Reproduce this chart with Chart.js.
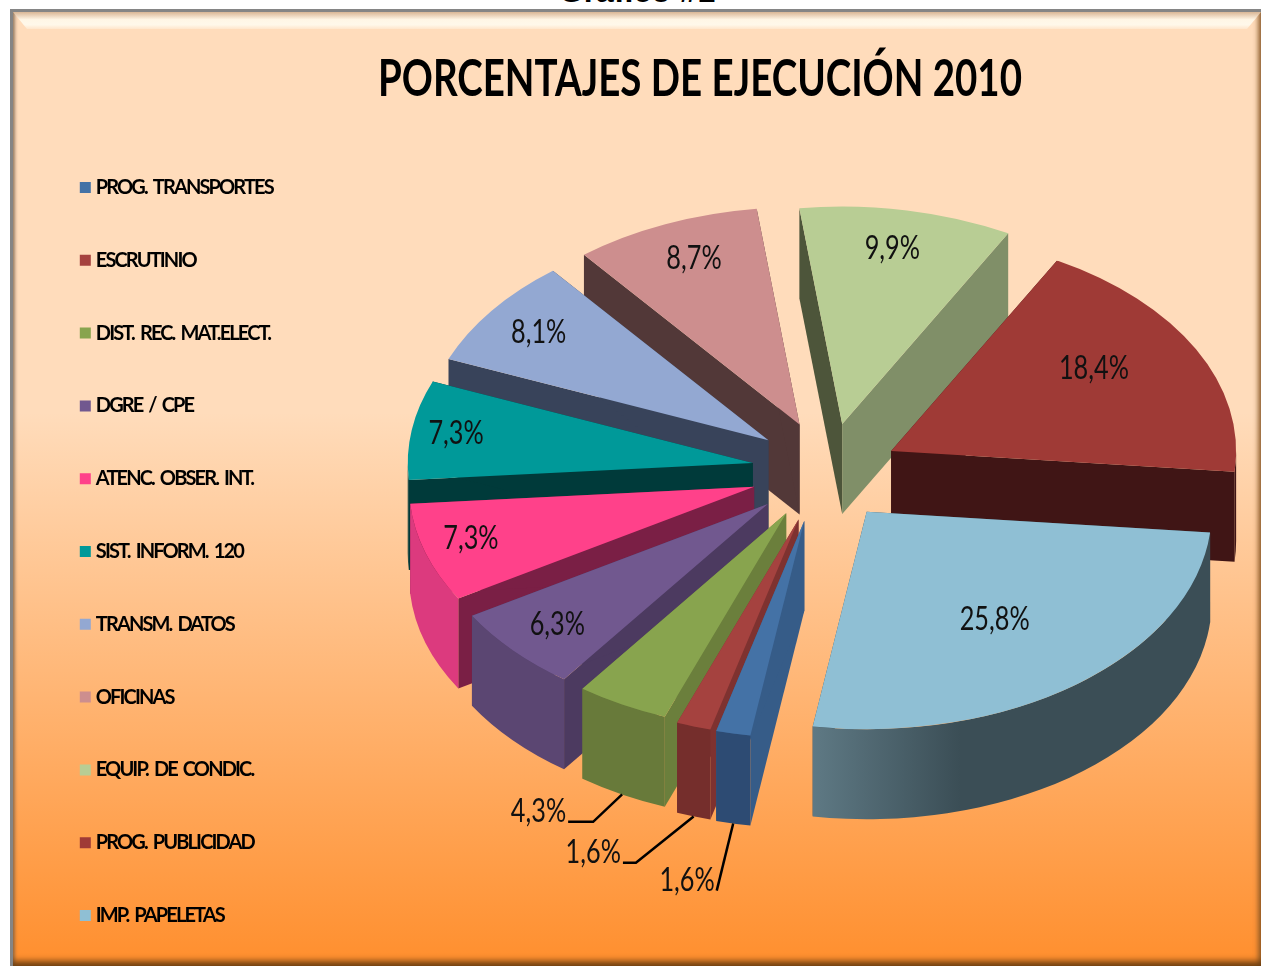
<!DOCTYPE html>
<html lang="es">
<head>
<meta charset="utf-8">
<title>Porcentajes de ejecución 2010</title>
<script src="https://cdn.jsdelivr.net/npm/chart.js@4/dist/chart.umd.min.js"></script>
<style>
html,body{margin:0;padding:0;background:#fff;width:1261px;height:967px;overflow:hidden}
#caption{position:absolute;left:0;width:1274px;top:-27px;text-align:center;font:bold 32px "Liberation Sans",Arial,sans-serif;color:#000}
#panel{position:absolute;left:10px;top:9px;width:1251px;height:957px;box-sizing:border-box;
 border-left:3px solid #858585;border-top:3px solid #858585;
 background:linear-gradient(180deg,#ffdcbb 0%,#ffdcbb 42%,#ff9030 99%);
 box-shadow:inset 0 -7px 6px -2px rgba(105,60,15,.95),inset -6px 0 5px -3px rgba(140,90,40,.8),inset 3px 0 3px -1px rgba(110,100,90,.55)}
#band{position:absolute;left:0;right:0;top:0;height:17px;clip-path:polygon(0 0,100% 0,calc(100% - 14px) 100%,14px 100%);
 background:linear-gradient(180deg,#d9b695 0%,#fff6e6 45%,#fff8ea 75%,#ffe6cc 100%)}
canvas{position:absolute;left:0;top:0}
</style>
</head>
<body>
<div id="caption">Gráfico #1</div>
<div id="panel"><div id="band"></div></div>
<canvas id="c" width="1261" height="967"></canvas>
<script>
const categories = ['PROG. TRANSPORTES','ESCRUTINIO','DIST. REC. MAT.ELECT.','DGRE / CPE','ATENC. OBSER. INT.','SIST. INFORM. 120','TRANSM. DATOS','OFICINAS','EQUIP. DE CONDIC.','PROG. PUBLICIDAD','IMP. PAPELETAS'];
const percentages = [1.6,1.6,4.3,6.3,7.3,7.3,8.1,8.7,9.9,18.4,25.8];
const titleText = 'PORCENTAJES DE EJECUCIÓN 2010';

const topColors   = ['#4472a6','#a5423f','#88a44e','#71588f','#ff418a','#009999','#93a8d2','#cd8e8e','#b8cd94','#9f3a36','#8fbfd4'];
const outerWalls  = ['#2d4b73','#752e2c','#687a3a','#5b4672','#dc3a7e','#003a3a','#38435a','#523838','#808f68','#401515','#3b4e56'];
const startWalls  = ['#365c88','#7e3230','#6b7f3c','#4c3a60','#7a1f45','#003a3a','#38435a','#523838','#4d553a','#401515','#3b4e56'];
const endWalls    = ['#365c88','#7e3230','#6b7f3c','#4c3a60','#7a1f45','#003a3a','#38435a','#523838','#808f68','#401515','#3b4e56'];
const explode     = [76,74,69,68,66,64,65.5,68,81,85,86];
const nudgeX      = [5,6,4,3,2,1,6,11,12,1,-1];
const nudgeY      = [4,5,5,5,4,-1,-5,-6,4,6,-1];
const labelReach  = [1.69,1.645,1.55,.826,.855,.87,.83,.82,.82,.70,.62];
const labelTurn   = [-.3,3.5,-.8,0,1.5,0,0,1,-.6,-5,1];
const leaderElbow = [0,13,25,0,0,0,0,0,0,0,0];
const hasLeader   = [true,true,true,false,false,false,false,false,false,false,false];

const PIE = {x:815, y:470, tilt:.63, depth:90};
const TITLE = {centre:700, width:644};
const LEGEND = {sampleWidth:177, shiftDown:68, wordGap:3};
const LABEL = {sampleWidth:70};
const RAD = Math.PI/180;
const fmt = v => v.toFixed(1).replace('.',',') + '%';
const LABEL_FONT = '32px Lato';
const TITLE_FONT = 'bold 52px Lato';
const LEGEND_FONT = 'bold 20px Lato';

const pie3d = {
  id:'pie3d',
  afterLayout(chart){
    const tb = chart.titleBlock, lg = chart.legend, ctx = chart.ctx;
    tb.left = TITLE.centre*2-1261; tb.right = 1261;
    lg.top += LEGEND.shiftDown; lg.bottom += LEGEND.shiftDown;
    if (!tb.__wrapped){
      tb.__wrapped = true;
      const drawTitle = tb.draw;
      tb.draw = function(){
        ctx.save(); ctx.font = TITLE_FONT;
        const sx = TITLE.width/ctx.measureText(titleText).width;
        ctx.translate(TITLE.centre,0); ctx.scale(sx,1); ctx.translate(-TITLE.centre,0);
        drawTitle.call(this); ctx.restore();
      };
      const drawLegend = lg.draw;
      lg.draw = function(){
        ctx.save(); ctx.font = LEGEND_FONT;
        const w = ctx.measureText(categories[0]).width;
        ctx.wordSpacing = LEGEND.wordGap+'px';
        ctx.letterSpacing = ((LEGEND.sampleWidth-w-LEGEND.wordGap)/categories[0].length).toFixed(2)+'px';
        drawLegend.call(this); ctx.restore();
      };
    }
  },
  beforeDatasetsDraw(chart){
    const ctx = chart.ctx, arcs = chart.getDatasetMeta(0).data;
    const k = PIE.tilt, d = PIE.depth;
    const geom = arcs.map((a,i)=>{
      const mid = (a.startAngle+a.endAngle)/2;
      return {a,i,mid,cx:PIE.x+nudgeX[i]+explode[i]*Math.cos(mid),cy:PIE.y+nudgeY[i]+k*explode[i]*Math.sin(mid)};
    });
    const backToFront = [...geom].sort((p,q)=>Math.sin(p.mid)-Math.sin(q.mid));
    for (const g of backToFront){
      const {a,i,cx,cy} = g, r = a.outerRadius;
      const at = t => [cx+r*Math.cos(t), cy+k*r*Math.sin(t)];
      const quad = (t,color)=>{
        const p = at(t);
        ctx.fillStyle = color; ctx.beginPath();
        ctx.moveTo(cx,cy); ctx.lineTo(p[0],p[1]); ctx.lineTo(p[0],p[1]+d); ctx.lineTo(cx,cy+d);
        ctx.closePath(); ctx.fill();
      };
      quad(a.startAngle,startWalls[i]);
      quad(a.endAngle,endWalls[i]);
      let wall = outerWalls[i];
      if (i===10){
        wall = ctx.createLinearGradient(810,0,960,0);
        wall.addColorStop(0,'#5f7a85'); wall.addColorStop(1,outerWalls[i]);
      }
      // only the part of the rim facing the viewer (lower half of the ellipse)
      for (let n=-1;n<=2;n++){
        const lo = Math.max(a.startAngle,2*Math.PI*n), hi = Math.min(a.endAngle,2*Math.PI*n+Math.PI);
        if (hi<=lo) continue;
        ctx.fillStyle = wall; ctx.beginPath();
        ctx.ellipse(cx,cy,r,k*r,0,lo,hi);
        ctx.ellipse(cx,cy+d,r,k*r,0,hi,lo,true);
        ctx.closePath(); ctx.fill();
      }
      ctx.save();
      ctx.translate(cx,cy); ctx.scale(1,k); ctx.translate(-a.x,-a.y);
      a.draw(ctx);
      ctx.restore();
    }
    // percentage labels and leader lines
    ctx.font = LABEL_FONT;
    ctx.textAlign = 'center'; ctx.textBaseline = 'middle';
    const sx = LABEL.sampleWidth/ctx.measureText(fmt(percentages[10])).width;
    for (const g of geom){
      const {a,i,mid,cx,cy} = g, r = a.outerRadius;
      const t = mid + labelTurn[i]*RAD;
      const lx = cx + labelReach[i]*r*Math.cos(t), ly = cy + k*labelReach[i]*r*Math.sin(t);
      const text = fmt(percentages[i]);
      ctx.save();
      ctx.translate(lx,ly); ctx.scale(sx,1);
      ctx.fillStyle = '#111';
      ctx.fillText(text,0,0);
      ctx.restore();
      if (hasLeader[i]){
        const w = ctx.measureText(text).width*sx;
        const px = lx+w/2+2, py = ly+10;
        ctx.strokeStyle = '#000'; ctx.lineWidth = 2.5; ctx.beginPath();
        ctx.moveTo(px,py); ctx.lineTo(px+leaderElbow[i],py);
        ctx.lineTo(cx+r*Math.cos(mid), cy+k*r*Math.sin(mid)+d);
        ctx.stroke();
      }
    }
    return false;
  }
};

new Chart(document.getElementById('c'),{
  type:'pie',
  plugins:[pie3d],
  data:{labels:categories,datasets:[{data:percentages,backgroundColor:topColors,borderWidth:0}]},
  options:{
    responsive:false,animation:false,
    rotation:189,radius:345,
    layout:{padding:{left:32,right:0,top:0,bottom:0}},
    plugins:{
      tooltip:{enabled:false},
      title:{display:true,text:titleText,color:'#000',
        font:{family:'Lato',size:52,weight:'bold',lineHeight:1.2},
        padding:{top:48,bottom:25}},
      legend:{position:'left',align:'center',
        labels:{
          boxWidth:1,boxHeight:1,padding:52.8,color:'#111',
          font:{family:'Lato',size:20,weight:'bold'},
          generateLabels:()=>categories.map((t,i)=>({text:t,fillStyle:topColors[i],strokeStyle:topColors[i],lineWidth:10,index:i}))
        }}
    }
  }
});
</script>
</body>
</html>
